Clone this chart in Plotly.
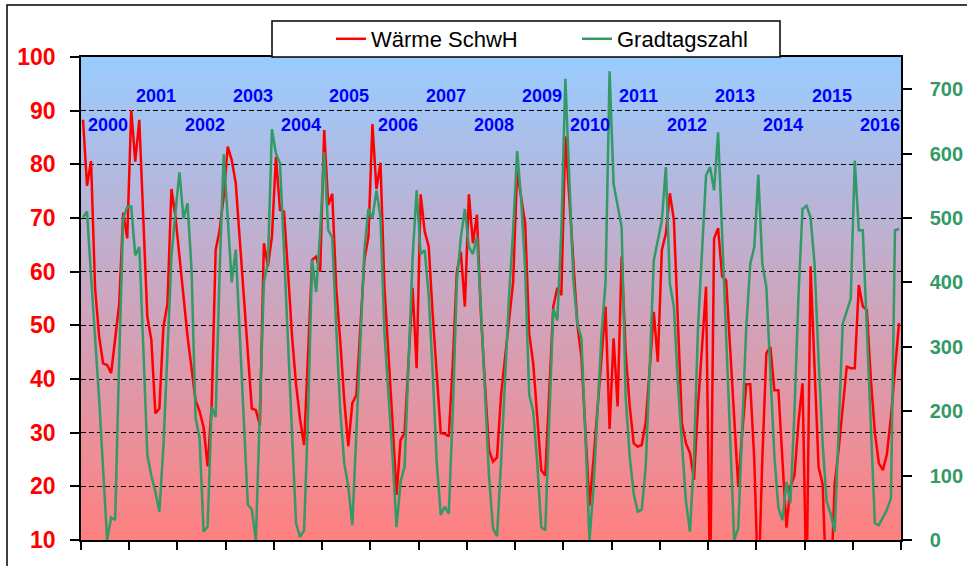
import plotly.graph_objects as go

# ---------------- data ----------------
years = list(range(2000, 2017))
month_labels = [f"{y}-{m:02d}" for y in years for m in range(1, 13)]

waerme_schwh = [
    88.3, 76.0, 80.6, 57.0, 48.0, 42.9, 42.6, 41.1, 47.5, 54.0, 71.0, 66.2,   # 2000
    90.1, 80.5, 88.3, 70.0, 51.6, 47.3, 33.6, 34.5, 49.7, 54.0, 75.4, 70.2,   # 2001
    63.0, 55.0, 48.0, 42.0, 36.0, 34.0, 31.0, 23.7, 35.0, 64.0, 67.8, 74.0,   # 2002
    83.3, 80.8, 76.5, 66.0, 55.5, 45.0, 34.5, 34.2, 31.4, 65.3, 61.0, 66.5,   # 2003
    81.4, 71.5, 71.2, 60.0, 48.0, 39.0, 32.5, 27.7, 45.0, 62.2, 62.8, 60.0,   # 2004
    86.4, 72.4, 74.5, 57.0, 47.0, 36.0, 27.5, 35.5, 37.0, 50.0, 62.2, 66.5,   # 2005
    87.5, 75.4, 80.3, 57.0, 45.0, 32.0, 18.4, 28.6, 29.9, 43.0, 57.0, 42.0,   # 2006
    74.4, 67.5, 64.7, 52.0, 40.0, 29.9, 29.8, 29.3, 43.0, 60.0, 63.7, 53.5,   # 2007
    74.4, 65.3, 70.6, 52.0, 39.0, 26.8, 24.6, 25.4, 37.0, 44.0, 50.0, 58.0,   # 2008
    78.6, 73.4, 69.0, 48.5, 42.9, 33.0, 23.0, 22.0, 38.0, 53.5, 57.0, 55.6,   # 2009
    85.2, 73.0, 62.0, 50.0, 44.0, 30.0, 16.4, 25.0, 35.0, 45.0, 53.5, 30.7,   # 2010
    47.6, 34.9, 62.8, 45.0, 35.0, 28.0, 27.4, 27.7, 32.0, 42.0, 52.5, 43.2,   # 2011
    64.0, 67.1, 74.6, 69.6, 50.0, 31.8, 28.0, 26.2, 21.2, 35.0, 46.0, 57.2,   # 2012
    0.0, 66.2, 68.1, 59.1, 58.4, 45.0, 32.0, 20.0, 30.0, 39.0, 39.0, 25.0,    # 2013
    0.0, 25.0, 44.8, 46.0, 37.9, 37.9, 25.0, 12.3, 20.0, 22.0, 32.0, 39.2,    # 2014
    0.0, 61.0, 42.0, 23.6, 20.4, 0.0, 0.0, 20.4, 27.0, 35.0, 42.3, 42.0,      # 2015
    42.0, 57.5, 53.5, 52.9, 40.0, 30.0, 24.3, 23.0, 26.0, 33.0, 42.0, 50.4,   # 2016
]

gradtagszahl = [
    501, 510, 410, 320, 220, 110, 0, 35, 31, 280, 500, 517,      # 2000
    518, 442, 455, 300, 132, 100, 75, 44, 145, 290, 440, 510,    # 2001
    571, 499, 523, 420, 190, 158, 13, 21, 207, 191, 420, 599,    # 2002
    491, 400, 451, 320, 170, 55, 47, 0, 200, 400, 430, 638,      # 2003
    600, 585, 450, 294, 165, 26, 5, 15, 196, 435, 385, 478,      # 2004
    602, 481, 470, 330, 200, 119, 83, 23, 160, 320, 450, 514,    # 2005
    499, 543, 501, 320, 230, 130, 20, 90, 114, 280, 439, 543,    # 2006
    444, 450, 380, 260, 120, 39, 52, 41, 200, 400, 470, 514,     # 2007
    455, 444, 470, 360, 230, 100, 18, 6, 120, 250, 380, 480,     # 2008
    604, 530, 420, 226, 200, 120, 20, 15, 190, 359, 341, 480,    # 2009
    716, 560, 403, 335, 313, 160, 0, 80, 200, 320, 400, 728,     # 2010
    553, 522, 486, 222, 130, 72, 44, 47, 114, 270, 434, 465,     # 2011
    496, 579, 398, 362, 243, 150, 60, 13, 130, 330, 460, 566,    # 2012
    579, 543, 633, 480, 330, 170, 0, 18, 180, 330, 429, 455,     # 2013
    567, 429, 393, 250, 130, 50, 31, 90, 57, 200, 380, 514,      # 2014
    519, 501, 429, 280, 150, 60, 41, 13, 170, 336, 355, 375,     # 2015
    589, 481, 481, 330, 170, 26, 23, 35, 47, 65, 481, 483,       # 2016
]

left_ticks = [10, 20, 30, 40, 50, 60, 70, 80, 90, 100]
right_ticks = [0, 100, 200, 300, 400, 500, 600, 700]

# ---------------- styling ----------------
FONT = "Liberation Sans, Arial, sans-serif"
RED = "#FF0000"
GREEN = "#339966"
BLUE = "#0000FF"

x_idx = list(range(len(month_labels)))
n_years = len(years)

fig = go.Figure()
fig.add_trace(go.Scatter(
    x=x_idx, y=waerme_schwh, name="Wärme SchwH", mode="lines",
    line=dict(color=RED, width=2.5), yaxis="y", text=month_labels,
))
fig.add_trace(go.Scatter(
    x=x_idx, y=gradtagszahl, name="Gradtagszahl", mode="lines",
    line=dict(color=GREEN, width=2.5), yaxis="y2", text=month_labels,
))

# vertical gradient background of the plot area (blue -> salmon)
shapes = []
top_col = (153, 204, 255)
bot_col = (255, 128, 128)
N = 120
for k in range(N):
    t = (k + 0.5) / N
    c = tuple(round(a + (b - a) * t) for a, b in zip(top_col, bot_col))
    shapes.append(dict(
        type="rect", xref="paper", yref="paper", x0=0, x1=1,
        y0=1 - (k + 1) / N - 0.002, y1=1 - k / N,
        fillcolor=f"rgb({c[0]},{c[1]},{c[2]})", line=dict(width=0), layer="below",
    ))

# plot geometry in px (for paper conversions of frame elements)
L, R, T, B = 81, 901, 57, 540
W, H = R - L, B - T


def px_x(p):
    return (p - L) / W


def px_y(p):
    return (B - p) / H


# outer chart frame
shapes.append(dict(type="rect", xref="paper", yref="paper",
                   x0=px_x(7), x1=px_x(990), y0=px_y(590), y1=px_y(5),
                   line=dict(color="black", width=1.5), fillcolor="rgba(0,0,0,0)", layer="above"))
# legend box
shapes.append(dict(type="rect", xref="paper", yref="paper",
                   x0=px_x(272), x1=px_x(780), y0=px_y(57), y1=px_y(21),
                   line=dict(color="black", width=1.5), fillcolor="white", layer="above"))

# year labels
annotations = []
for k, yr in enumerate(years):
    annotations.append(dict(
        x=12 * k + 5.5, y=92.8 if yr % 2 else 87.3, xref="x", yref="y",
        text=f"<b>{yr}</b>", showarrow=False, xshift=3,
        font=dict(family=FONT, size=18, color=BLUE),
    ))

fig.update_layout(
    width=967, height=566,
    margin=dict(l=L, r=967 - R, t=T, b=566 - B, autoexpand=False),
    paper_bgcolor="white", plot_bgcolor="white",
    font=dict(family=FONT, color="black"),
    shapes=shapes, annotations=annotations,
    showlegend=True,
    legend=dict(
        orientation="h", x=px_x(331), xanchor="left", y=px_y(39), yanchor="middle",
        bgcolor="rgba(0,0,0,0)", borderwidth=0,
        font=dict(family=FONT, size=22, color="black"),
        entrywidth=201, entrywidthmode="pixels",
    ),
    xaxis=dict(
        range=[-0.5, len(x_idx) - 0.5],
        tickvals=[-0.5 + 12 * k for k in range(n_years + 1)],
        showticklabels=False, ticks="outside", ticklen=8, tickcolor="black", tickwidth=1.5,
        showgrid=False, zeroline=False,
        showline=True, linecolor="black", linewidth=1.5, mirror=True,
    ),
    yaxis=dict(
        range=[10, 100], tickvals=left_ticks,
        ticks="outside", ticklen=9, tickcolor="black", tickwidth=1.5,
        tickfont=dict(family=FONT, size=23, color=RED, weight="bold"),
        ticklabelstandoff=10,
        showgrid=True, gridcolor="black", gridwidth=1, griddash="5px,3px",
        zeroline=False, showline=True, linecolor="black", linewidth=1.5, mirror=True,
    ),
    yaxis2=dict(
        overlaying="y", side="right", range=[0, 750], tickvals=right_ticks,
        ticks="outside", ticklen=9, tickcolor="black", tickwidth=1.5,
        tickfont=dict(family=FONT, size=20, color=GREEN, weight="bold"),
        ticklabelstandoff=14,
        showgrid=False, zeroline=False, showline=True, linecolor="black", linewidth=1.5,
    ),
)

# the page's default 8px body margin would shift the chart; remove it
fig.write_html("out.html", config={"displayModeBar": False},
               post_script="document.body.style.margin='0px';")
